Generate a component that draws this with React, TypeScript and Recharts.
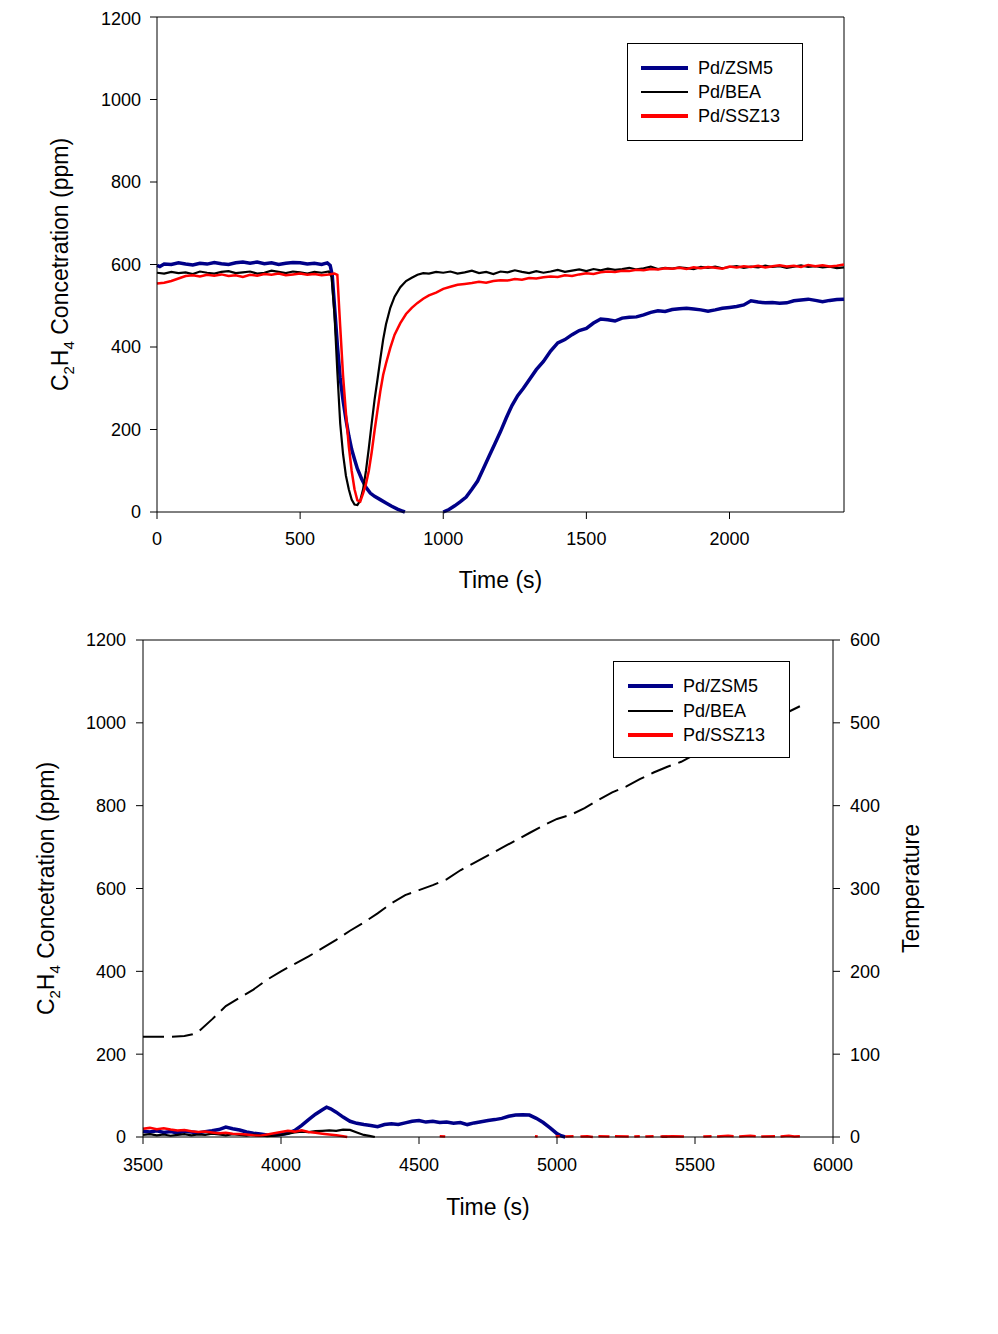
import React from "react";
import { LineChart, Line, XAxis, YAxis, ReferenceLine } from "recharts";

const FONT = "'Liberation Sans', Arial, sans-serif";

type Pt = [number, number | null];

// ---- top panel: isothermal adsorption / breakthrough ----
const topTicksX = [0, 500, 1000, 1500, 2000];
const ticksPpm = [0, 200, 400, 600, 800, 1000, 1200];

const zsm5Top: Pt[] = [
  [0, 598], [10, 595], [25, 601], [50, 600], [75, 604], [100, 601], [125, 599], [150, 603], [175, 601],
  [200, 605], [225, 602], [250, 600], [275, 604], [300, 606], [325, 603], [350, 606], [375, 602],
  [400, 604], [425, 600], [450, 603], [475, 605], [500, 604], [525, 601], [550, 603], [575, 600],
  [595, 604], [605, 598], [612, 575], [620, 500], [630, 405], [640, 325], [650, 270], [660, 225],
  [670, 185], [680, 152], [690, 128], [700, 105], [715, 80], [730, 60], [745, 46], [760, 38],
  [780, 30], [800, 22], [820, 14], [840, 7], [855, 3], [866, 0], [930, null],
  [1000, 0], [1020, 6], [1040, 15], [1060, 25], [1080, 36], [1100, 55], [1120, 75], [1140, 105],
  [1160, 135], [1180, 165], [1200, 195], [1220, 228], [1240, 258], [1260, 282], [1280, 300],
  [1300, 320], [1325, 345], [1350, 365], [1375, 390], [1400, 410], [1425, 418], [1450, 430],
  [1475, 440], [1500, 445], [1525, 458], [1550, 468], [1575, 466], [1600, 463], [1625, 470],
  [1650, 472], [1675, 473], [1700, 478], [1725, 484], [1750, 488], [1775, 486], [1800, 491],
  [1825, 493], [1850, 494], [1875, 492], [1900, 490], [1925, 487], [1950, 490], [1975, 494],
  [2000, 496], [2025, 498], [2050, 502], [2075, 512], [2100, 509], [2125, 507], [2150, 508],
  [2175, 506], [2200, 507], [2225, 512], [2250, 514], [2275, 516], [2300, 513], [2325, 510],
  [2350, 513], [2375, 515], [2400, 516],
];

const beaTop: Pt[] = [
  [0, 580], [25, 578], [50, 582], [75, 579], [100, 581], [125, 577], [150, 583], [175, 580],
  [200, 578], [225, 582], [250, 584], [275, 579], [300, 581], [325, 583], [350, 578], [375, 580],
  [400, 585], [425, 582], [450, 579], [475, 583], [500, 581], [525, 578], [550, 582], [575, 580],
  [600, 583], [610, 570], [620, 480], [630, 340], [640, 215], [650, 140], [660, 88], [670, 55],
  [680, 30], [690, 18], [700, 17], [710, 28], [720, 55], [730, 100], [740, 155], [750, 215],
  [760, 272], [770, 320], [780, 370], [790, 418], [800, 455], [815, 495], [830, 522], [850, 545],
  [870, 560], [890, 568], [910, 575], [930, 579], [950, 578], [975, 582],
  [1000, 580], [1025, 583], [1050, 578], [1075, 581], [1100, 585], [1125, 579], [1150, 582],
  [1175, 577], [1200, 583], [1225, 581], [1250, 586], [1275, 582], [1300, 579], [1325, 584],
  [1350, 580], [1375, 583], [1400, 587], [1425, 582], [1450, 585], [1475, 588], [1500, 584],
  [1525, 589], [1550, 586], [1575, 590], [1600, 587], [1625, 589], [1650, 592], [1675, 588],
  [1700, 591], [1725, 595], [1750, 589], [1775, 592], [1800, 590], [1825, 593], [1850, 591],
  [1875, 589], [1900, 594], [1925, 592], [1950, 595], [1975, 591], [2000, 594], [2025, 596],
  [2050, 592], [2075, 595], [2100, 593], [2125, 597], [2150, 594], [2175, 596], [2200, 592],
  [2225, 595], [2250, 598], [2275, 594], [2300, 596], [2325, 593], [2350, 595], [2375, 591],
  [2400, 593],
];

const ssz13Top: Pt[] = [
  [0, 554], [25, 556], [50, 560], [75, 566], [100, 572], [125, 574], [150, 571], [175, 575],
  [200, 573], [225, 576], [250, 572], [275, 574], [300, 570], [325, 575], [350, 573], [375, 577],
  [400, 575], [425, 578], [450, 574], [475, 576], [500, 578], [525, 575], [550, 577], [575, 574],
  [600, 576], [620, 578], [630, 575], [640, 450], [650, 330], [660, 240], [670, 160], [680, 100],
  [690, 55], [700, 28], [710, 25], [720, 45], [730, 68], [740, 100], [750, 145], [760, 197],
  [770, 245], [780, 292], [790, 332], [800, 360], [815, 398], [830, 430], [850, 458], [870, 480],
  [890, 495], [910, 507], [930, 517], [950, 525], [975, 532],
  [1000, 541], [1025, 546], [1050, 551], [1075, 553], [1100, 555], [1125, 558], [1150, 556],
  [1175, 560], [1200, 562], [1225, 561], [1250, 565], [1275, 563], [1300, 567], [1325, 566],
  [1350, 569], [1375, 571], [1400, 570], [1425, 574], [1450, 572], [1475, 576], [1500, 579],
  [1525, 577], [1550, 581], [1575, 583], [1600, 582], [1625, 585], [1650, 584], [1675, 587],
  [1700, 586], [1725, 589], [1750, 588], [1775, 591], [1800, 590], [1825, 592], [1850, 589],
  [1875, 593], [1900, 591], [1925, 594], [1950, 592], [1975, 590], [2000, 595], [2025, 593],
  [2050, 596], [2075, 594], [2100, 597], [2125, 593], [2150, 596], [2175, 598], [2200, 595],
  [2225, 597], [2250, 594], [2275, 599], [2300, 596], [2325, 598], [2350, 595], [2375, 597],
  [2400, 600],
];

// ---- bottom panel: temperature-programmed desorption ----
const bottomTicksX = [3500, 4000, 4500, 5000, 5500, 6000];
const ticksTemp = [0, 100, 200, 300, 400, 500, 600];

const zsm5Bottom: Pt[] = [
  [3500, 14], [3525, 12], [3550, 15], [3575, 11], [3600, 13], [3625, 10], [3650, 14], [3675, 12],
  [3700, 10], [3725, 13], [3750, 15], [3775, 18], [3800, 24], [3825, 20], [3850, 17], [3875, 12],
  [3900, 9], [3925, 7], [3950, 5], [3975, 4], [4000, 6], [4025, 9], [4050, 16], [4075, 28],
  [4100, 42], [4125, 55], [4150, 66], [4165, 72], [4180, 68], [4200, 60], [4225, 48], [4250, 38],
  [4275, 33], [4300, 30], [4325, 28], [4350, 25], [4375, 30], [4400, 32], [4425, 30], [4450, 34],
  [4475, 38], [4500, 40], [4525, 36], [4550, 38], [4575, 35], [4600, 36], [4625, 33], [4650, 35],
  [4675, 30], [4700, 34], [4725, 37], [4750, 40], [4775, 42], [4800, 45], [4825, 50], [4850, 53],
  [4875, 54], [4900, 53], [4925, 45], [4950, 35], [4975, 22], [5000, 8], [5015, 3], [5030, 0],
];

const beaBottom: Pt[] = [
  [3500, 5], [3525, 7], [3550, 4], [3575, 6], [3600, 3], [3625, 5], [3650, 7], [3675, 4],
  [3700, 6], [3725, 5], [3750, 8], [3775, 6], [3800, 4], [3825, 7], [3850, 5], [3875, 3],
  [3900, 6], [3925, 4], [3950, 2], [3975, 3], [4000, 5], [4025, 8], [4050, 11], [4075, 13],
  [4100, 12], [4125, 14], [4150, 15], [4175, 16], [4200, 15], [4225, 18], [4250, 17], [4275, 11],
  [4300, 5], [4325, 2], [4340, 0], [4400, null], [5380, 1], [5400, 1], [5410, null],
];

const ssz13Bottom: Pt[] = [
  [3500, 20], [3525, 22], [3550, 19], [3575, 21], [3600, 18], [3625, 16], [3650, 17], [3675, 14],
  [3700, 12], [3725, 13], [3750, 11], [3775, 9], [3800, 10], [3825, 8], [3850, 7], [3875, 6],
  [3900, 4], [3925, 3], [3950, 6], [3975, 9], [4000, 12], [4025, 15], [4050, 13], [4075, 16],
  [4100, 12], [4125, 10], [4150, 8], [4175, 6], [4200, 4], [4225, 2], [4240, 0], [4250, null],
  [4575, 2], [4595, 1], [4600, null], [4920, 2], [4930, 1], [4940, null],
  [4995, 1], [5010, 2], [5020, null], [5030, 1], [5060, 2], [5075, null], [5085, 1], [5110, 2],
  [5130, 0], [5140, null], [5150, 2], [5190, 1], [5200, null], [5210, 2], [5260, 1], [5270, null],
  [5280, 1], [5300, 2], [5310, null], [5320, 1], [5350, 2], [5360, null], [5375, 1], [5420, 2],
  [5460, 1], [5470, null], [5530, 1], [5560, 2], [5570, null], [5580, 1], [5620, 3], [5640, 2],
  [5650, null], [5660, 1], [5700, 3], [5720, 2], [5730, null], [5740, 1], [5790, 2], [5800, null],
  [5810, 1], [5840, 3], [5860, 1], [5880, 2],
];

const temperature: Pt[] = [
  [3500, 121], [3550, 121], [3600, 121], [3650, 122], [3680, 124], [3700, 127], [3750, 142],
  [3800, 158], [3850, 168], [3900, 178], [3950, 190], [4000, 200], [4050, 209], [4100, 218],
  [4150, 228], [4200, 238], [4250, 249], [4300, 259], [4350, 270], [4400, 282], [4450, 292],
  [4500, 298], [4550, 304], [4600, 311], [4650, 322], [4700, 331], [4750, 340], [4800, 349],
  [4850, 358], [4900, 367], [4950, 376], [5000, 384], [5050, 389], [5100, 397], [5150, 407],
  [5200, 416], [5250, 423], [5300, 432], [5350, 440], [5400, 447], [5450, 453], [5500, 462],
  [5600, 478], [5700, 493], [5800, 507], [5880, 520],
];

const SERIES = [
  { name: "Pd/ZSM5", color: "#000088", width: 3.5, legendWidth: 4 },
  { name: "Pd/BEA", color: "#000000", width: 2.2, legendWidth: 2.5 },
  { name: "Pd/SSZ13", color: "#ff0000", width: 2.5, legendWidth: 3.5 },
];

const toPts = (arr: Pt[]) => arr.map(([t, v]) => ({ t, v }));

const tickStyle = { fill: "#000", fontSize: 18, fontFamily: FONT };

function ppmTitle(cx: number) {
  return (props: any) => {
    const vb = props.viewBox || {};
    const cy = vb.height ? vb.y + vb.height / 2 : 257;
    return (
      <text x={cx} y={cy} transform={`rotate(-90 ${cx} ${cy})`} textAnchor="middle" fontSize={23} fontFamily={FONT} fill="#000">
        C<tspan dy={6} fontSize={15}>2</tspan>
        <tspan dy={-6}>H</tspan>
        <tspan dy={6} fontSize={15}>4</tspan>
        <tspan dy={-6}>{"\u00a0Concetration (ppm)"}</tspan>
      </text>
    );
  };
}

function tempTitle(cx: number) {
  return (props: any) => {
    const vb = props.viewBox || {};
    const cy = vb.height ? vb.y + vb.height / 2 : 281;
    return (
      <text x={cx} y={cy} transform={`rotate(-90 ${cx} ${cy})`} textAnchor="middle" fontSize={23} fontFamily={FONT} fill="#000">
        Temperature
      </text>
    );
  };
}

function timeTitle(dy: number) {
  return (props: any) => {
    const vb = props.viewBox || {};
    const cx = vb.x + vb.width / 2;
    return (
      <text x={cx} y={vb.y + dy} textAnchor="middle" fontSize={23} fontFamily={FONT} fill="#000">
        Time (s)
      </text>
    );
  };
}

function LegendBox({ left, top, width, height, sampleLeft, sampleWidth, textLeft, rows }: any) {
  return (
    <div
      style={{
        position: "absolute", left, top, width, height, boxSizing: "border-box",
        border: "1px solid #000", background: "#fff", fontFamily: FONT, fontSize: 18, color: "#000",
      }}
    >
      {SERIES.map((s, i) => (
        <React.Fragment key={s.name}>
          <div
            style={{
              position: "absolute", left: sampleLeft, width: sampleWidth, top: rows[i] - s.legendWidth / 2,
              height: s.legendWidth, background: s.color,
            }}
          />
          <div style={{ position: "absolute", left: textLeft, top: rows[i] - 11, lineHeight: "22px", whiteSpace: "nowrap" }}>
            {s.name}
          </div>
        </React.Fragment>
      ))}
    </div>
  );
}

export default function App() {
  const topData = [zsm5Top, beaTop, ssz13Top].map(toPts);
  const bottomData = [zsm5Bottom, beaBottom, ssz13Bottom].map(toPts);

  return (
    <div style={{ width: 990, background: "#fff" }}>
      <div style={{ position: "relative", width: 990, height: 600 }}>
        <LineChart width={990} height={600} margin={{ top: 9, right: 154, bottom: 36, left: 0 }} style={{ fontFamily: FONT }}>
          <XAxis
            xAxisId="b" type="number" dataKey="t" domain={[0, 2400]} ticks={topTicksX}
            tickSize={7} tickMargin={13} tick={tickStyle} stroke="#000" height={60}
            label={{ content: timeTitle(76) }}
          />
          <YAxis
            yAxisId="l" type="number" domain={[0, 1200]} ticks={ticksPpm} width={149}
            tickSize={7} tickMargin={9} tick={tickStyle} stroke="#000"
            label={{ content: ppmTitle(60) }}
          />
          {/* frame: top and right edges */}
          <ReferenceLine xAxisId="b" yAxisId="l" y={1200} stroke="#000" strokeWidth={1} />
          <ReferenceLine xAxisId="b" yAxisId="l" x={2400} stroke="#000" strokeWidth={1} />
          {SERIES.map((s, i) => (
            <Line
              key={s.name} xAxisId="b" yAxisId="l" data={topData[i]} dataKey="v" name={s.name}
              stroke={s.color} strokeWidth={s.width} dot={false} type="linear" isAnimationActive={false}
            />
          ))}
        </LineChart>
        <LegendBox left={619} top={35} width={176} height={98} sampleLeft={13} sampleWidth={47} textLeft={70} rows={[24, 48, 72]} />
      </div>

      <div style={{ position: "relative", width: 990, height: 640 }}>
        <LineChart width={990} height={640} margin={{ top: 32, right: 0, bottom: 51, left: 0 }} style={{ fontFamily: FONT }}>
          <XAxis
            xAxisId="b" type="number" dataKey="t" domain={[3500, 6000]} ticks={bottomTicksX}
            tickSize={7} tickMargin={14} tick={tickStyle} stroke="#000" height={60}
            label={{ content: timeTitle(78) }}
          />
          <YAxis
            yAxisId="l" type="number" domain={[0, 1200]} ticks={ticksPpm} width={135}
            tickSize={7} tickMargin={10} tick={tickStyle} stroke="#000"
            label={{ content: ppmTitle(46) }}
          />
          <YAxis
            yAxisId="r" orientation="right" type="number" domain={[0, 600]} ticks={ticksTemp} width={165}
            tickSize={7} tickMargin={10} tick={tickStyle} stroke="#000"
            label={{ content: tempTitle(911) }}
          />
          <ReferenceLine xAxisId="b" yAxisId="l" y={1200} stroke="#000" strokeWidth={1} />
          <Line
            xAxisId="b" yAxisId="r" data={toPts(temperature)} dataKey="v" name="Temperature"
            stroke="#000" strokeWidth={2} strokeDasharray="21 8" dot={false} type="linear" isAnimationActive={false}
          />
          {SERIES.map((s, i) => (
            <Line
              key={s.name} xAxisId="b" yAxisId="l" data={bottomData[i]} dataKey="v" name={s.name}
              stroke={s.color} strokeWidth={s.width} dot={false} type="linear" isAnimationActive={false}
            />
          ))}
        </LineChart>
        <LegendBox left={605} top={53} width={177} height={97} sampleLeft={14} sampleWidth={45} textLeft={69} rows={[24, 49, 73]} />
      </div>
    </div>
  );
}
